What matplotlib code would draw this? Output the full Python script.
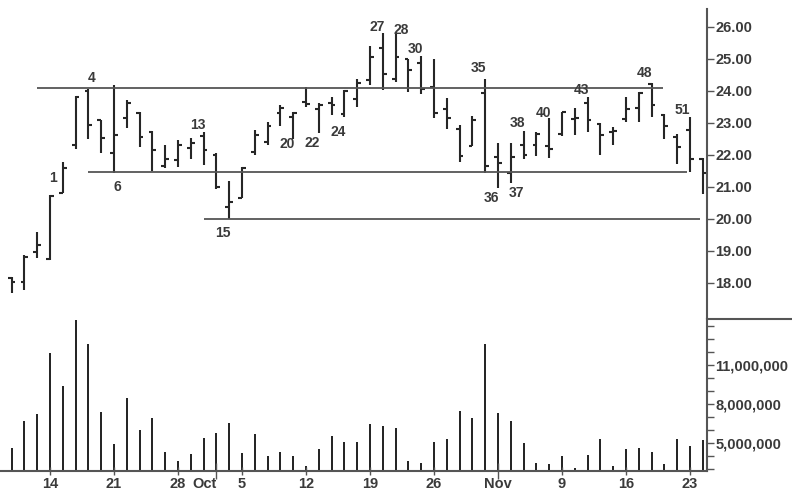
import numpy as np
import matplotlib.pyplot as plt
from matplotlib.lines import Line2D
from matplotlib.ticker import FixedLocator, FuncFormatter

plt.rcParams['font.family'] = ['Liberation Sans', 'DejaVu Sans']

# daily bars, numbered from Sep 14 (bar 1); bars -2..0 are Sep 9-11
bar_no = list(range(-2, 53))
opens = [18.15, 18.04, 18.98, 18.75, 20.82, 22.31, 24.00, 23.09, 22.07, 23.15,
         23.30, 22.73, 21.66, 21.85, 22.21, 22.60, 22.00, 20.38, 20.65, 22.10,
         22.42, 23.30, 23.18, 23.65, 23.45, 23.62, 23.28, 23.74, 24.34, 25.33,
         24.37, 24.99, 24.88, 24.12, 23.43, 22.80, 22.28, 23.95, 21.95, 21.45,
         22.31, 22.31, 22.28, 22.66, 23.13, 23.63, 22.97, 22.73, 23.11, 23.46,
         24.22, 23.25, 22.57, 22.78, 21.87]
highs = [18.20, 18.88, 19.60, 20.75, 21.79, 23.84, 24.05, 23.09, 24.19, 23.72,
         23.35, 22.75, 22.31, 22.47, 22.52, 22.73, 22.05, 21.20, 21.63, 22.78,
         23.04, 23.56, 23.35, 24.12, 23.62, 23.82, 24.03, 24.37, 25.41, 25.80,
         25.83, 24.99, 25.09, 24.99, 23.77, 22.94, 23.22, 24.37, 22.37, 22.37,
         22.76, 22.73, 23.15, 23.35, 23.46, 23.80, 22.99, 22.87, 23.80, 23.98,
         24.24, 23.28, 22.66, 23.18, 21.90]
lows = [17.68, 17.78, 18.77, 18.72, 20.80, 22.18, 22.49, 22.05, 21.43, 22.83,
        22.24, 21.50, 21.58, 21.63, 21.87, 21.69, 20.93, 19.99, 20.65, 22.00,
        22.31, 22.89, 22.49, 23.49, 22.68, 23.25, 23.18, 23.49, 24.19, 24.03,
        24.29, 23.98, 23.91, 23.15, 22.80, 21.79, 22.28, 21.43, 20.96, 21.11,
        21.87, 21.97, 21.90, 22.59, 22.63, 22.73, 22.00, 22.31, 23.04, 23.04,
        23.20, 22.49, 21.72, 21.48, 20.78]
closes = [18.04, 18.82, 19.19, 20.72, 21.58, 23.80, 22.94, 22.52, 22.63, 23.63,
          22.57, 22.16, 21.87, 22.31, 22.37, 22.16, 21.00, 20.54, 21.60, 22.63,
          22.89, 23.46, 23.30, 23.60, 23.57, 23.55, 24.00, 24.24, 25.07, 24.53,
          25.07, 24.66, 24.05, 23.32, 23.15, 21.97, 23.10, 21.66, 21.76, 21.93,
          22.00, 22.66, 22.18, 23.33, 23.17, 23.09, 22.63, 22.75, 23.43, 23.93,
          23.56, 22.91, 22.24, 21.87, 21.45]
# volume in millions of shares
volume_m = [4.62, 6.74, 7.23, 11.92, 9.43, 14.48, 12.64, 7.41, 4.92, 8.46,
            6.02, 6.92, 4.35, 3.64, 4.15, 5.43, 5.77, 6.54, 4.23, 5.69,
            3.97, 4.28, 3.97, 3.25, 4.54, 5.51, 5.05, 5.05, 6.49, 6.28,
            6.20, 3.64, 3.46, 5.08, 5.33, 7.49, 6.97, 12.62, 7.31, 6.74,
            5.00, 3.46, 3.38, 4.02, 3.05, 4.10, 5.33, 3.20, 4.54, 4.62,
            4.28, 3.38, 5.33, 4.79, 5.25]

tick_bars = [1, 6, 11, 14, 16, 21, 26, 31, 36, 41, 46, 51]
tick_text = ['14', '21', '28', 'Oct', '5', '12', '19', '26', 'Nov', '9', '16', '23']
month_bars = [14, 36]

# horizontal lines: level, first bar, last bar
line_level = [24.08, 21.48, 20.00]
line_from = [0.0, 4.0, 13.0]
line_to = [48.9, 50.8, 51.8]

label_bars = [1, 4, 6, 13, 15, 20, 22, 24, 27, 28, 30, 35, 36, 37, 38, 40, 43, 48, 51]
label_below = [6, 15, 20, 22, 24, 36, 37]
# label offsets in pixels (dx, dy from the high / low)
label_off = {1: (3, 17), 4: (3, 11), 6: (3, -14), 13: (-6, 7), 15: (-6, -14),
             20: (-6, -5), 22: (-7, -10), 24: (-6, -15), 27: (-6, 6),
             28: (6, 2), 30: (-6, 7), 35: (-7, 11), 36: (-7, -10),
             37: (6, -10), 38: (-6, 8), 40: (-6, 5), 43: (-6, 7),
             48: (-7, 10), 51: (-8, 7)}

ink = '#262626'
txt = '#3a3a3a'
W, H = 792, 494
x_left, x_right = 0, 707
y_top, y_mid, y_bot = 9, 319, 471

fig = plt.figure(figsize=(W / 100, H / 100), dpi=100)
ax = fig.add_axes([x_left / W, 1 - y_mid / H, (x_right - x_left) / W, (y_mid - y_top) / H])
axv = fig.add_axes([x_left / W, 1 - y_bot / H, (x_right - x_left) / W, (y_bot - y_mid) / H],
                   sharex=ax)

x = np.array(bar_no, dtype=float)
ax.vlines(x, lows, highs, color=ink, lw=1.5)
ax.hlines(opens, x - 0.3, x, color=ink, lw=1.5)
ax.hlines(closes, x, x + 0.3, color=ink, lw=1.5)

for lev, a, b in zip(line_level, line_from, line_to):
    ax.hlines(lev, a, b, color='#555555', lw=1.3)

for n in label_bars:
    i = bar_no.index(n)
    y = lows[i] if n in label_below else highs[i]
    dx, dy = label_off[n]
    ax.annotate(str(n), (n, y), xytext=(dx, dy), textcoords='offset pixels',
                ha='center', va='center', fontsize=10, fontweight='bold', color=txt)

ax.set_xlim(1 - 50 / 12.8, 1 + 657 / 12.8)
ax.set_ylim(16.875, 26.56)
for s in ['top', 'left', 'bottom']:
    ax.spines[s].set_visible(False)
ax.spines['right'].set_color('#555555')
ax.spines['right'].set_linewidth(1.5)
ax.yaxis.tick_right()
ax.set_yticks(np.arange(18, 27, 1))
ax.yaxis.set_major_formatter(FuncFormatter(lambda v, p: f'{v:.2f}'))
ax.tick_params(axis='y', length=5, width=1, color='#555555', pad=1,
               labelsize=10.5, labelcolor=txt)
for lab in ax.get_yticklabels():
    lab.set_fontweight('bold')
ax.tick_params(axis='x', bottom=False, labelbottom=False)

# volume panel
axv.bar(x, np.array(volume_m) * 1e6, width=0.16, color=ink)
axv.set_ylim(2.85e6, 14.56e6)
for s in ['top', 'left']:
    axv.spines[s].set_visible(False)
for s in ['right', 'bottom']:
    axv.spines[s].set_color('#555555')
    axv.spines[s].set_linewidth(1.5)
axv.yaxis.tick_right()
axv.yaxis.set_major_locator(FixedLocator([5e6, 8e6, 11e6]))
axv.yaxis.set_minor_locator(FixedLocator([v * 1e6 for v in range(3, 15) if v not in (5, 8, 11)]))
axv.yaxis.set_major_formatter(FuncFormatter(lambda v, p: f'{v:,.0f}'))
axv.tick_params(axis='y', which='both', length=5, width=1, color='#555555', pad=1,
                labelsize=10.5, labelcolor=txt)
for lab in axv.get_yticklabels():
    lab.set_fontweight('bold')

axv.set_xticks(tick_bars)
axv.set_xticklabels(tick_text, fontweight='bold')
axv.tick_params(axis='x', direction='inout', length=6, width=1, color='#555555', pad=1,
                labelsize=10.5, labelcolor=txt)
for t, lab, b in zip(axv.xaxis.get_major_ticks(), axv.get_xticklabels(), tick_bars):
    if b in month_bars:
        t.tick1line.set_markersize(12)
    if lab.get_text() == 'Oct':
        lab.set_horizontalalignment('right')

fig.add_artist(Line2D([x_right / W, 1], [1 - y_mid / H] * 2, color='#555555', lw=1.5))

fig.savefig('out.png', dpi=100, facecolor='white')
